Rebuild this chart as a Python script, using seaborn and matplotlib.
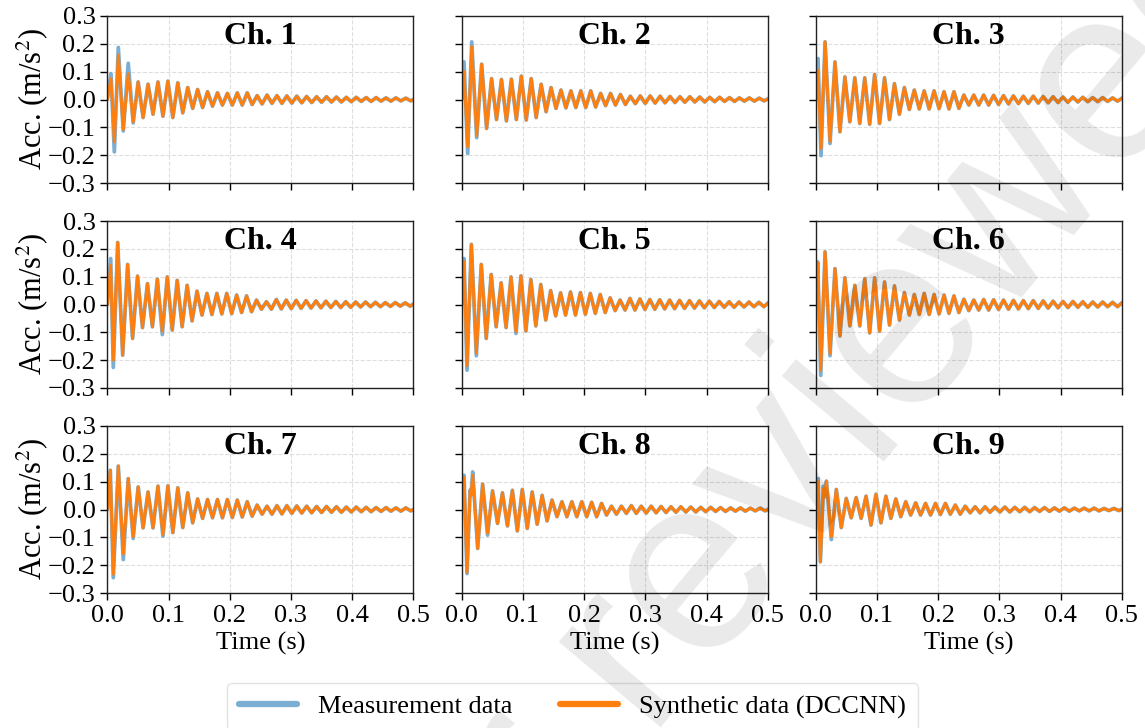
import numpy as np
import pandas as pd
import matplotlib
matplotlib.use("Agg")
import matplotlib.pyplot as plt
import seaborn as sns
from matplotlib.lines import Line2D

# ---------------- data ----------------
channels = ["Ch. 1", "Ch. 2", "Ch. 3", "Ch. 4", "Ch. 5", "Ch. 6", "Ch. 7", "Ch. 8", "Ch. 9"]
x_ticks = [0.0, 0.1, 0.2, 0.3, 0.4, 0.5]
y_ticks = [-0.3, -0.2, -0.1, 0.0, 0.1, 0.2, 0.3]
series_names = ["Measurement data", "Synthetic data (DCCNN)"]
watermark = "peer reviewed"
half_period_ms = 8.1          # spacing between successive extrema (ms)

# early (irregular) extrema: times in ms and values in m/s^2
ch1_head_t = [0.0, 6.0, 11.5]
ch1_head_meas = [0.0, 0.093, -0.188]
ch1_head_syn = [0.0, 0.075, -0.152]
ch1_t0 = 18.0
ch1_meas = [0.187, -0.113, 0.130, -0.084, 0.063, -0.065, 0.055, -0.053, 0.063, -0.060,
            0.066, -0.065, 0.060, -0.048, 0.043, -0.032, 0.036, -0.029, 0.028, -0.024,
            0.024, -0.020, 0.022, -0.020, 0.024, -0.020, 0.024, -0.018, 0.014, -0.016,
            0.016, -0.014, 0.014, -0.014, 0.013, -0.013, 0.012, -0.012, 0.011, -0.011,
            0.010, -0.010, 0.010, -0.009, 0.009, -0.009, 0.008, -0.008, 0.008, -0.007,
            0.007, -0.007, 0.007, -0.006, 0.006, -0.006, 0.006, -0.005, 0.005, -0.005, 0.005]
ch1_syn_fix = {0: 0.160, 1: -0.108, 2: 0.093, 3: -0.080}

ch2_head_t = [0.0, 3.8, 9.8]
ch2_head_meas = [0.0, 0.135, -0.194]
ch2_head_syn = [0.0, 0.100, -0.170]
ch2_t0 = 16.4
ch2_meas = [0.207, -0.137, 0.127, -0.104, 0.075, -0.072, 0.072, -0.077, 0.073, -0.072,
            0.084, -0.074, 0.075, -0.065, 0.055, -0.044, 0.043, -0.032, 0.034, -0.030,
            0.031, -0.029, 0.031, -0.029, 0.031, -0.027, 0.022, -0.022, 0.022, -0.020,
            0.018, -0.018, 0.012, -0.015, 0.013, -0.014, 0.013, -0.013, 0.012, -0.012,
            0.011, -0.011, 0.010, -0.010, 0.010, -0.009, 0.009, -0.009, 0.008, -0.008,
            0.008, -0.007, 0.007, -0.007, 0.006, -0.006, 0.006, -0.006, 0.005, -0.005, 0.005]
ch2_syn_fix = {0: 0.190, 1: -0.130}

ch3_head_t = [0.0, 3.8, 8.7]
ch3_head_meas = [0.0, 0.147, -0.202]
ch3_head_syn = [0.0, 0.105, -0.176]
ch3_t0 = 15.3
ch3_meas = [0.207, -0.158, 0.135, -0.116, 0.081, -0.080, 0.078, -0.086, 0.078, -0.089,
            0.090, -0.086, 0.078, -0.072, 0.057, -0.053, 0.043, -0.036, 0.034, -0.034,
            0.031, -0.034, 0.031, -0.033, 0.028, -0.034, 0.028, -0.032, 0.016, -0.020,
            0.016, -0.020, 0.016, -0.020, 0.015, -0.018, 0.014, -0.016, 0.013, -0.015,
            0.012, -0.014, 0.012, -0.013, 0.011, -0.012, 0.010, -0.011, 0.009, -0.010,
            0.009, -0.009, 0.008, -0.008, 0.007, -0.008, 0.007, -0.007, 0.006, -0.006, 0.006]
ch3_syn_fix = {1: -0.150}

ch4_head_t = [0.0, 5.5, 9.8]
ch4_head_meas = [0.0, 0.165, -0.226]
ch4_head_syn = [0.0, 0.141, -0.200]
ch4_t0 = 17.0
ch4_meas = [0.223, -0.182, 0.144, -0.122, 0.102, -0.083, 0.075, -0.080, 0.091, -0.108,
            0.099, -0.092, 0.087, -0.080, 0.069, -0.059, 0.048, -0.038, 0.040, -0.036,
            0.040, -0.034, 0.040, -0.033, 0.034, -0.029, 0.031, -0.026, 0.016, -0.017,
            0.010, -0.017, 0.018, -0.016, 0.016, -0.015, 0.015, -0.014, 0.014, -0.013,
            0.013, -0.012, 0.012, -0.011, 0.011, -0.011, 0.010, -0.010, 0.009, -0.009,
            0.009, -0.008, 0.008, -0.008, 0.007, -0.007, 0.007, -0.006, 0.006, -0.006, 0.006]
ch4_syn_fix = {9: -0.096}

ch5_head_t = [0.0, 3.8, 8.7]
ch5_head_meas = [0.0, 0.165, -0.236]
ch5_head_syn = [0.0, 0.153, -0.220]
ch5_t0 = 15.8
ch5_meas = [0.216, -0.184, 0.144, -0.122, 0.108, -0.080, 0.078, -0.083, 0.099, -0.104,
            0.103, -0.095, 0.090, -0.077, 0.072, -0.056, 0.050, -0.041, 0.042, -0.038,
            0.045, -0.038, 0.043, -0.035, 0.040, -0.032, 0.036, -0.029, 0.024, -0.022,
            0.016, -0.020, 0.022, -0.020, 0.020, -0.018, 0.018, -0.017, 0.017, -0.016,
            0.016, -0.015, 0.015, -0.014, 0.014, -0.013, 0.013, -0.012, 0.012, -0.011,
            0.011, -0.010, 0.010, -0.010, 0.009, -0.009, 0.009, -0.008, 0.008, -0.008, 0.008]
ch5_syn_fix = {1: -0.175, 9: -0.097}

ch6_head_t = [0.0, 3.3, 8.2]
ch6_head_meas = [0.0, 0.153, -0.255]
ch6_head_syn = [0.0, 0.150, -0.236]
ch6_t0 = 15.3
ch6_meas = [0.189, -0.184, 0.129, -0.113, 0.096, -0.077, 0.069, -0.077, 0.093, -0.102,
            0.096, -0.096, 0.081, -0.074, 0.067, -0.056, 0.043, -0.038, 0.036, -0.036,
            0.040, -0.036, 0.036, -0.034, 0.034, -0.032, 0.031, -0.029, 0.019, -0.022,
            0.016, -0.020, 0.018, -0.020, 0.017, -0.018, 0.016, -0.017, 0.015, -0.016,
            0.014, -0.015, 0.014, -0.014, 0.013, -0.013, 0.012, -0.012, 0.011, -0.011,
            0.011, -0.010, 0.010, -0.010, 0.009, -0.009, 0.009, -0.008, 0.008, -0.008, 0.008]
ch6_syn_fix = {1: -0.176}

ch7_head_t = [0.0, 4.9, 9.8]
ch7_head_meas = [0.0, 0.141, -0.245]
ch7_head_syn = [0.0, 0.141, -0.233]
ch7_t0 = 18.0
ch7_meas = [0.156, -0.180, 0.111, -0.104, 0.081, -0.066, 0.063, -0.066, 0.084, -0.096,
            0.085, -0.083, 0.078, -0.065, 0.060, -0.048, 0.038, -0.032, 0.036, -0.030,
            0.036, -0.030, 0.036, -0.029, 0.034, -0.027, 0.028, -0.024, 0.016, -0.017,
            0.012, -0.017, 0.014, -0.016, 0.014, -0.014, 0.013, -0.013, 0.012, -0.012,
            0.011, -0.011, 0.011, -0.010, 0.010, -0.010, 0.009, -0.009, 0.009, -0.008,
            0.008, -0.008, 0.007, -0.007, 0.007, -0.006, 0.006, -0.006, 0.006, -0.005, 0.005]
ch7_syn_fix = {1: -0.160, 3: -0.098, 9: -0.090}

ch8_head_t = [0.0, 3.8, 8.7, 13.7, 15.3]
ch8_head_meas = [0.0, 0.123, -0.230, 0.070, 0.055]
ch8_head_syn = [0.0, 0.115, -0.225, 0.065, 0.050]
ch8_t0 = 18.0
ch8_meas = [0.135, -0.140, 0.091, -0.092, 0.067, -0.050, 0.060, -0.059, 0.069, -0.077,
            0.072, -0.068, 0.063, -0.053, 0.051, -0.041, 0.034, -0.026, 0.028, -0.026,
            0.028, -0.026, 0.028, -0.026, 0.026, -0.026, 0.022, -0.020, 0.012, -0.017,
            0.012, -0.014, 0.014, -0.014, 0.012, -0.013, 0.012, -0.012, 0.011, -0.011,
            0.010, -0.010, 0.010, -0.009, 0.009, -0.009, 0.008, -0.008, 0.008, -0.007,
            0.007, -0.007, 0.006, -0.006, 0.006, -0.006, 0.005, -0.005, 0.005, -0.005, 0.005]
ch8_syn_fix = {0: 0.123, 3: -0.085}

ch9_head_t = [0.0, 3.8, 7.6, 12.6, 14.2]
ch9_head_meas = [0.0, 0.111, -0.188, 0.084, 0.045]
ch9_head_syn = [0.0, 0.100, -0.188, 0.075, 0.045]
ch9_t0 = 17.5
ch9_meas = [0.102, -0.108, 0.072, -0.065, 0.040, -0.030, 0.043, -0.032, 0.048, -0.056,
            0.055, -0.048, 0.048, -0.032, 0.038, -0.026, 0.028, -0.020, 0.024, -0.020,
            0.022, -0.020, 0.022, -0.018, 0.022, -0.017, 0.016, -0.017, 0.012, -0.012,
            0.010, -0.012, 0.010, -0.010, 0.009, -0.009, 0.009, -0.009, 0.008, -0.008,
            0.008, -0.008, 0.007, -0.007, 0.007, -0.007, 0.006, -0.006, 0.006, -0.006,
            0.005, -0.005, 0.005, -0.005, 0.005, -0.005, 0.004, -0.004, 0.004, -0.004, 0.004]
ch9_syn_fix = {1: -0.098}

raw = {
    1: (ch1_head_t, ch1_head_meas, ch1_head_syn, ch1_t0, ch1_meas, ch1_syn_fix),
    2: (ch2_head_t, ch2_head_meas, ch2_head_syn, ch2_t0, ch2_meas, ch2_syn_fix),
    3: (ch3_head_t, ch3_head_meas, ch3_head_syn, ch3_t0, ch3_meas, ch3_syn_fix),
    4: (ch4_head_t, ch4_head_meas, ch4_head_syn, ch4_t0, ch4_meas, ch4_syn_fix),
    5: (ch5_head_t, ch5_head_meas, ch5_head_syn, ch5_t0, ch5_meas, ch5_syn_fix),
    6: (ch6_head_t, ch6_head_meas, ch6_head_syn, ch6_t0, ch6_meas, ch6_syn_fix),
    7: (ch7_head_t, ch7_head_meas, ch7_head_syn, ch7_t0, ch7_meas, ch7_syn_fix),
    8: (ch8_head_t, ch8_head_meas, ch8_head_syn, ch8_t0, ch8_meas, ch8_syn_fix),
    9: (ch9_head_t, ch9_head_meas, ch9_head_syn, ch9_t0, ch9_meas, ch9_syn_fix),
}

rows = []
for ch, (ht, hm, hs, t0, meas, fix) in raw.items():
    syn = [fix.get(k, v) for k, v in enumerate(meas)]
    t_main = [t0 + k * half_period_ms for k in range(len(meas))]
    t_all = list(ht) + t_main
    for t, m, s in zip(t_all, list(hm) + meas, list(hs) + syn):
        rows.append((ch, t / 1000.0, m, s))
df = pd.DataFrame(rows, columns=["ch", "time", "meas", "syn"])

# ---------------- style ----------------
sns.set_style("ticks")
plt.rcParams["font.family"] = ["Liberation Serif", "DejaVu Serif"]
plt.rcParams["mathtext.fontset"] = "stix"
plt.rcParams["axes.unicode_minus"] = True
plt.rcParams["text.color"] = "black"
plt.rcParams["axes.labelcolor"] = "black"

blue = "#7aaed3"
orange = "#ff7f0e"

W, H = 1145, 728
fig = plt.figure(figsize=(W / 100, H / 100), dpi=100)

lefts = [107.3, 461.7, 815.7]
tops = [16.0, 221.0, 426.0]
aw, ah = 306.0, 167.0

axes = []
for i in range(3):
    for j in range(3):
        ch = i * 3 + j + 1
        ax = fig.add_axes([lefts[j] / W, 1 - (tops[i] + ah) / H, aw / W, ah / H])
        d = df[df["ch"] == ch]
        sns.lineplot(x=d["time"], y=d["meas"], ax=ax, color=blue, lw=2.7,
                     estimator=None, sort=False, legend=False)
        sns.lineplot(x=d["time"], y=d["syn"], ax=ax, color=orange, lw=2.1,
                     estimator=None, sort=False, legend=False)
        ax.set_xlim(0, 0.5)
        ax.set_ylim(-0.3, 0.3)
        ax.set_xticks(x_ticks)
        ax.set_yticks(y_ticks)
        ax.grid(True, ls="--", color="#dedede", lw=0.8)
        ax.tick_params(direction="out", length=5, width=1, labelsize=19,
                       colors="black", labelcolor="black")
        for s in ax.spines.values():
            s.set_color("#222222")
            s.set_linewidth(1.0)
        ax.text(0.5, 0.965, channels[ch - 1], transform=ax.transAxes, ha="center",
                va="top", fontsize=23, fontweight="bold", color="black")
        if j == 0:
            ax.set_ylabel("Acc. (m/s$^2$)", fontsize=22, labelpad=-1.5)
            ax.set_yticklabels([f"{v:.1f}".replace("-", "\u2212") for v in y_ticks])
        else:
            ax.set_ylabel("")
            ax.set_yticklabels([])
        if i == 2:
            ax.set_xlabel("Time (s)", fontsize=19, labelpad=4)
            ax.set_xticklabels([f"{v:.1f}" for v in x_ticks])
        else:
            ax.set_xlabel("")
            ax.set_xticklabels([])
        axes.append(ax)

handles = [Line2D([0], [0], color=blue, lw=4.5), Line2D([0], [0], color=orange, lw=4.5)]
leg = fig.legend(handles, series_names, loc="upper center", bbox_to_anchor=(0.5, 1 - 683 / H),
                 ncol=2, fontsize=19, frameon=True, fancybox=True, handlelength=2.2,
                 handletextpad=0.8, columnspacing=1.8, borderpad=0.45, borderaxespad=0.0)
leg.get_frame().set_edgecolor("#dddddd")
leg.get_frame().set_linewidth(1.0)

# watermark: place the "r" of "reviewed" near the lower middle, running up to the right
renderer = fig.canvas.get_renderer()
wm_fs = 180
wm_rot = 50
probe = fig.text(0, 0, "peer r", fontsize=wm_fs, family="Liberation Sans")
probe2 = fig.text(0, 0, "r", fontsize=wm_fs, family="Liberation Sans")
pre_w = probe.get_window_extent(renderer).width - probe2.get_window_extent(renderer).width
probe.remove()
probe2.remove()
ang = np.deg2rad(wm_rot)
r_base_x, r_base_y = 650.0, H - 740.0          # display px (y up) of baseline start of "reviewed"
sx = r_base_x - pre_w * np.cos(ang)
sy = r_base_y - pre_w * np.sin(ang)
fig.text(sx / W, sy / H, watermark, fontsize=wm_fs, family="Liberation Sans",
         color="black", alpha=0.085, rotation=wm_rot, rotation_mode="anchor",
         ha="left", va="baseline", zorder=10)

fig.savefig("out.png", dpi=100)
